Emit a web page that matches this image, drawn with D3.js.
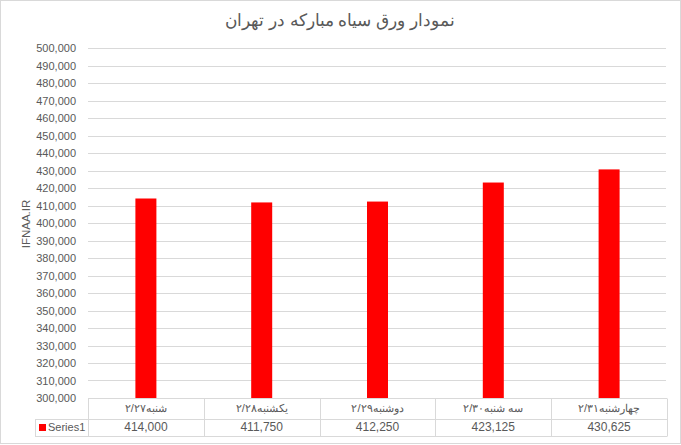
<!DOCTYPE html>
<html><head><meta charset="utf-8">
<script src="https://cdn.jsdelivr.net/npm/d3@7"></script>
<style>body{margin:0;background:#fff}svg{display:block}</style>
</head><body>
<svg id="c" width="681" height="445"></svg>
<script>
const categories = ["شنبه۲/۲۷","یکشنبه۲/۲۸","دوشنبه۲/۲۹","سه شنبه۲/۳۰","چهارشنبه۲/۳۱"];
const values = [414000, 411750, 412250, 423125, 430625];
const seriesName = "Series1";
const title = "نمودار ورق سیاه مبارکه در تهران";
const yTitle = "IFNAA.IR";
const yTicks = d3.range(300000, 500001, 10000);

const svg = d3.select("#c");
const font = "'Liberation Sans', Arial, sans-serif";
const txt = "#595959", grid = "#d9d9d9";
const L = 88, R = 667, T = 48, B = 398;

svg.append("rect").attr("x",0.5).attr("y",0.5).attr("width",680).attr("height",443)
  .attr("fill","#fff").attr("stroke",grid);

const x = d3.scaleBand().domain(categories).range([L,R]).paddingInner(0).paddingOuter(0);
const y = d3.scaleLinear().domain([300000,500000]).range([B,T]);

// gridlines
svg.append("g").selectAll("line").data(yTicks).join("line")
  .attr("x1",L).attr("x2",R-1).attr("y1",d=>Math.round(y(d))+0.5).attr("y2",d=>Math.round(y(d))+0.5)
  .attr("stroke",grid).attr("stroke-width",1);

// y axis labels
const yAxis = d3.axisLeft(y).tickValues(yTicks).tickFormat(d3.format(",")).tickSize(0).tickPadding(12);
const ga = svg.append("g").attr("transform",`translate(${L},0)`).call(yAxis);
ga.select(".domain").remove();
ga.selectAll("text").attr("fill",txt).style("font-family",font).style("font-size","11px");

// bars
const bw = 21;
svg.append("g").selectAll("rect").data(values).join("rect")
  .attr("x",(d,i)=>x(categories[i])+x.bandwidth()/2-bw/2)
  .attr("width",bw)
  .attr("y",d=>y(d)).attr("height",d=>B-y(d))
  .attr("fill","#ff0000");

// data table
const r1 = B+0.5, r2 = B+21.5, r3 = B+38.5;
const tg = svg.append("g").attr("stroke",grid).attr("stroke-width",1);
tg.append("line").attr("x1",L).attr("x2",R).attr("y1",r1).attr("y2",r1);
tg.append("line").attr("x1",35).attr("x2",R).attr("y1",r2).attr("y2",r2);
tg.append("line").attr("x1",35).attr("x2",R).attr("y1",r3).attr("y2",r3);
tg.append("line").attr("x1",35.5).attr("x2",35.5).attr("y1",r2).attr("y2",r3);
const edges = categories.map(c=>x(c)).concat([R]);
tg.selectAll("line.v").data(edges).join("line").attr("class","v")
  .attr("x1",d=>Math.round(d)+0.5).attr("x2",d=>Math.round(d)+0.5).attr("y1",r1).attr("y2",r3);

svg.append("g").selectAll("text").data(categories).join("text")
  .attr("x",d=>x(d)+x.bandwidth()/2).attr("y",B+13.5)
  .attr("text-anchor","middle").attr("direction","rtl").style("direction","rtl")
  .attr("fill",txt).style("font-family",font).style("font-size","11px").text(d=>d);

svg.append("g").selectAll("text").data(values).join("text")
  .attr("x",(d,i)=>x(categories[i])+x.bandwidth()/2).attr("y",B+33)
  .attr("text-anchor","middle").attr("fill",txt).style("font-family",font).style("font-size","12px")
  .text(d=>d3.format(",")(d));

svg.append("rect").attr("x",39).attr("y",B+26).attr("width",7).attr("height",7).attr("fill","#ff0000");
svg.append("text").attr("x",48).attr("y",B+33).attr("fill",txt)
  .style("font-family",font).style("font-size","11px").text(seriesName);

// title
svg.append("text").attr("x",340).attr("y",26).attr("text-anchor","middle").attr("direction","rtl")
  .attr("fill",txt).style("font-family",font).style("font-size","17px").text(title);

// y title
svg.append("text").attr("transform",`translate(30,224) rotate(-90)`).attr("text-anchor","middle")
  .attr("fill",txt).style("font-family",font).style("font-size","11.5px").text(yTitle);
</script>
</body></html>
